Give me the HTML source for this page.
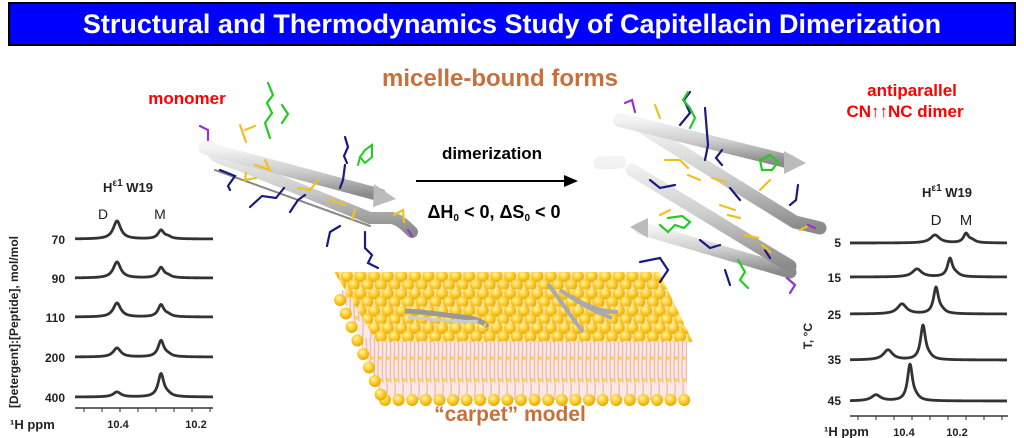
<!DOCTYPE html>
<html><head><meta charset="utf-8"><style>
html,body{margin:0;padding:0;background:#fff;width:1024px;height:438px;overflow:hidden}
svg{display:block;font-family:"Liberation Sans",Arial,sans-serif}
</style></head><body>
<svg id="s" width="1024" height="438" viewBox="0 0 1024 438" xmlns="http://www.w3.org/2000/svg">
<defs>
<radialGradient id="ball" cx="0.4" cy="0.35" r="0.65">
<stop offset="0" stop-color="#fff6b0"/><stop offset="0.45" stop-color="#ffd23a"/><stop offset="1" stop-color="#e8a800"/>
</radialGradient>
<pattern id="balls" x="340" y="272" width="13.6" height="17.2" patternUnits="userSpaceOnUse">
<rect width="13.6" height="17.2" fill="#fbe3a0"/>
<circle cx="6.8" cy="4.3" r="6" fill="url(#ball)"/>
<circle cx="13.6" cy="12.9" r="6" fill="url(#ball)"/><circle cx="0" cy="12.9" r="6" fill="url(#ball)"/>
</pattern>
<pattern id="tails" x="0" y="338" width="8" height="62" patternUnits="userSpaceOnUse">
<rect width="8" height="62" fill="#fde9e4"/>
<path d="M2 0 C4 15 0 30 3 45 C4 52 2 58 3 62 M6 0 C8 14 5 30 7 45" stroke="#f0b8ac" stroke-width="1.3" fill="none"/>
<circle cx="4" cy="20" r="1.8" fill="#ffd23a"/><circle cx="4" cy="42" r="1.8" fill="#ffd23a"/>
</pattern>
<linearGradient id="rib" x1="0" y1="0" x2="0" y2="1"><stop offset="0" stop-color="#f4f4f4"/><stop offset="0.5" stop-color="#cdcdcd"/><stop offset="1" stop-color="#8a8a8a"/></linearGradient>
</defs>
<!-- title -->
<rect x="9" y="3" width="1006" height="42" fill="#0000ff" stroke="#000" stroke-width="2"/>
<text x="512" y="33" font-size="27" font-weight="bold" fill="#fff" text-anchor="middle">Structural and Thermodynamics Study of Capitellacin Dimerization</text>

<!-- labels -->
<text x="187" y="104" font-size="17" font-weight="bold" fill="#ff0000" text-anchor="middle">monomer</text>
<text x="500" y="86" font-size="24" font-weight="bold" fill="#c8703c" text-anchor="middle">micelle-bound forms</text>
<text x="912" y="96" font-size="17" font-weight="bold" fill="#ff0000" text-anchor="middle">antiparallel</text>
<text x="905" y="117" font-size="17" font-weight="bold" fill="#ff0000" text-anchor="middle">CN↑↑NC dimer</text>
<text x="492" y="159" font-size="17" font-weight="bold" fill="#000" text-anchor="middle">dimerization</text>
<line x1="416" y1="181" x2="566" y2="181" stroke="#000" stroke-width="2"/>
<polygon points="578,181 564,175 564,187" fill="#000"/>
<text x="494" y="218" font-size="18" font-weight="bold" fill="#000" text-anchor="middle">ΔH<tspan font-size="10" dy="3">0</tspan><tspan dy="-3"> &lt; 0, ΔS</tspan><tspan font-size="10" dy="3">0</tspan><tspan dy="-3"> &lt; 0</tspan></text>

<!-- membrane -->
<polygon points="340,290 383,400 687,400 687,338 340,290" fill="url(#tails)"/>
<g id="lowballs"></g>
<polygon points="334,272 659,272 693,342 377,342" fill="url(#balls)"/>
<path d="M405 311 C430 312 450 316 470 318 C480 320 488 326 486 325" stroke="#999" stroke-width="5" fill="none"/>
<path d="M408 317 C430 319 455 323 478 321" stroke="#ccc" stroke-width="3" fill="none"/>
<path d="M548 284 C560 300 570 315 583 332 M560 290 C575 300 590 310 612 318 M570 296 C585 305 600 312 618 312" stroke="#aaa" stroke-width="4" fill="none"/>
<text x="510" y="421" font-size="21" font-weight="bold" fill="#c8703c" text-anchor="middle">“carpet” model</text>

<!-- monomer -->
<g fill="none" stroke-linecap="round">
<path d="M210 146 C212 158 225 160 240 165 L370 218 L392 218 C400 220 405 225 412 232" stroke="url(#rib)" stroke-width="12"/>
<path d="M215 170 L370 226" stroke="#888" stroke-width="2"/>
<path d="M205 148 L380 195" stroke="url(#rib)" stroke-width="13"/>
<polygon points="374,184 396,199 373,207" fill="#bbb" stroke="none"/>
<path d="M270 138 L265 123 L272 113 L267 103 L273 95 L268 83 M282 123 l6 -9 l-6 -9" stroke="#22cc22" stroke-width="2.2"/>
<path d="M345 165 L343 180 L340 188 M345 137 l3 10 l-4 9 l3 7" stroke="#1a1a80" stroke-width="2.2"/>
<path d="M250 207 L262 196 L276 198 L284 188 M290 212 L298 200 L305 195 M327 246 L330 232 L340 226 M365 232 L365 248 L372 255 L368 263 L378 268 M220 170 L235 176 L228 186 L230 190" stroke="#1a1a80" stroke-width="2.2"/>
<path d="M240 125 L246 142 M245 130 l10 -4 M265 160 L270 170 L255 165 M298 188 L310 190 L318 180 M330 200 L345 205 M355 210 L352 220 M246 173 L245 180 L256 178 M394 215 L403 210 L404 222" stroke="#f0c020" stroke-width="2.2"/>
<path d="M360 157 L365 150 L372 145 L372 157 L365 163 Z M360 157 L358 165" stroke="#22cc22" stroke-width="2"/>
<path d="M200 126 L208 130 L208 140 M408 230 L412 236" stroke="#9933cc" stroke-width="2.2"/>
</g>

<!-- dimer -->
<g fill="none" stroke-linecap="round">
<path d="M640 228 L790 272" stroke="url(#rib)" stroke-width="13"/>
<polygon points="630,227 648,218 648,238" fill="#bbb"/>
<path d="M600 163 L620 162 M632 170 L790 266" stroke="url(#rib)" stroke-width="13"/>
<path d="M640 126 L795 222 L820 228" stroke="url(#rib)" stroke-width="13"/>
<path d="M620 120 L790 162" stroke="url(#rib)" stroke-width="14"/>
<polygon points="784,151 806,163 784,174" fill="#bbb"/>
<path d="M680 125 L690 113 L684 100 L690 92 M705 160 L708 145 L705 108 M722 165 L716 158 L722 150 M730 188 L740 200 M798 185 L796 200 L790 205 M650 180 L660 188 L675 185 M640 262 L660 258 L668 270 L660 282 M700 240 L710 248 L720 245 M725 270 L730 285 M765 250 L770 258" stroke="#1a1a80" stroke-width="2.2"/>
<path d="M690 128 L695 118 L690 108 L683 100 L688 92 M660 225 L668 232 L675 225 L684 228 L690 222 L682 216 L668 218 M738 260 L745 272 L740 280 L748 288 M760 160 L770 155 L778 162 L772 170 L762 170 Z" stroke="#22cc22" stroke-width="2.2"/>
<path d="M655 105 L660 118 M665 160 L680 160 L688 168 M688 175 L700 180 M712 178 L725 182 M720 205 L735 210 M728 215 L740 218 M744 235 L758 238 M762 245 L770 252 M660 215 L670 210 M760 190 L770 180 M800 230 L808 226" stroke="#f0c020" stroke-width="2.2"/>
<path d="M625 103 L632 100 L635 112 M787 278 L795 285 L790 293 M808 225 L815 228" stroke="#9933cc" stroke-width="2.2"/>
</g>

<!-- left spectra -->
<text x="128" y="192" font-size="13" font-weight="bold" fill="#222" text-anchor="middle">H<tspan font-size="10" dy="-6">ε1</tspan><tspan dy="6"> W19</tspan></text>
<text x="103" y="219" font-size="14" fill="#222" text-anchor="middle">D</text>
<text x="160" y="219" font-size="14" fill="#222" text-anchor="middle">M</text>
<g font-size="12" font-weight="bold" fill="#222" text-anchor="end">
<text x="65" y="244">70</text><text x="65" y="283">90</text><text x="65" y="322">110</text><text x="65" y="362">200</text><text x="65" y="402">400</text>
</g>
<text transform="translate(18,322) rotate(-90)" font-size="12" font-weight="bold" fill="#222" text-anchor="middle">[Detergent]:[Peptide], mol/mol</text>
<line x1="75" y1="408" x2="213" y2="408" stroke="#333" stroke-width="1.5"/>
<g id="lt"></g>
<text x="10" y="429" font-size="13" font-weight="bold" fill="#222">¹H ppm</text>
<text x="118" y="428" font-size="11" font-weight="bold" fill="#222" text-anchor="middle">10.4</text>
<text x="196" y="428" font-size="11" font-weight="bold" fill="#222" text-anchor="middle">10.2</text>

<!-- right spectra -->
<text x="947" y="197" font-size="13" font-weight="bold" fill="#222" text-anchor="middle">H<tspan font-size="10" dy="-6">ε1</tspan><tspan dy="6"> W19</tspan></text>
<text x="936" y="225" font-size="15" fill="#222" text-anchor="middle">D</text>
<text x="966" y="225" font-size="15" fill="#222" text-anchor="middle">M</text>
<g font-size="12" font-weight="bold" fill="#222" text-anchor="end">
<text x="841" y="247">5</text><text x="841" y="282">15</text><text x="841" y="319">25</text><text x="841" y="364">35</text><text x="841" y="405">45</text>
</g>
<text transform="translate(812,336) rotate(-90)" font-size="12" font-weight="bold" fill="#222" text-anchor="middle">T, °C</text>
<line x1="850" y1="416" x2="1008" y2="416" stroke="#333" stroke-width="1.5"/>
<g id="rt"></g>
<text x="824" y="436" font-size="13" font-weight="bold" fill="#222">¹H ppm</text>
<text x="904" y="436" font-size="11" font-weight="bold" fill="#222" text-anchor="middle">10.4</text>
<text x="957" y="436" font-size="11" font-weight="bold" fill="#222" text-anchor="middle">10.2</text>
<g id="spec"></g>
</svg>
<script>
var NS="http://www.w3.org/2000/svg",s=document.getElementById("spec");
function spec(x0,x1,y,peaks){var d="";for(var x=x0;x<=x1;x+=0.5){var v=0;peaks.forEach(function(p){var t=(x-p[0])/p[2];v+=p[1]/(1+t*t);});d+=(x==x0?"M":"L")+x+" "+(y-v).toFixed(2);}
var e=document.createElementNS(NS,"path");e.setAttribute("d",d);e.setAttribute("fill","none");e.setAttribute("stroke","#333");e.setAttribute("stroke-width","2.8");e.setAttribute("stroke-linejoin","round");s.appendChild(e);}
var L=[[239,18,10],[278,16,12],[317,14,14],[357,9,19],[397,5,27]];
L.forEach(function(r){spec(75,213,r[0],[[117,r[1],4.5],[161,r[2]*0.85,3.5],[168,2,4]]);});
var R=[[243,935,8,966,9],[277,917,8,950,18],[314,902,10,936,26],[360,888,10,923,34],[401,876,6,910,36]];
R.forEach(function(r){spec(850,1007,r[0],[[r[1],r[2],5.5],[r[3],r[4],3],[r[3]+6,2.5,4]]);});
function ticks(g,x0,x1,y,n){var G=document.getElementById(g);for(var i=0;i<=n;i++){var x=x0+(x1-x0)*i/n;var l=document.createElementNS(NS,"line");l.setAttribute("x1",x);l.setAttribute("x2",x);l.setAttribute("y1",y);l.setAttribute("y2",y+4);l.setAttribute("stroke","#333");G.appendChild(l);}}
ticks("lt",84,210,408,7);ticks("rt",858,1002,416,8);
var lb=document.getElementById("lowballs");
for(var i=0;i<23;i++){var c=document.createElementNS(NS,"circle");c.setAttribute("cx",385+i*13.6);c.setAttribute("cy",400);c.setAttribute("r",6);c.setAttribute("fill","url(#ball)");lb.appendChild(c);}
for(var j=0;j<8;j++){var c=document.createElementNS(NS,"circle");c.setAttribute("cx",340+j*5.8);c.setAttribute("cy",300+j*13.5);c.setAttribute("r",6);c.setAttribute("fill","url(#ball)");lb.appendChild(c);}
</script>
</body></html>
